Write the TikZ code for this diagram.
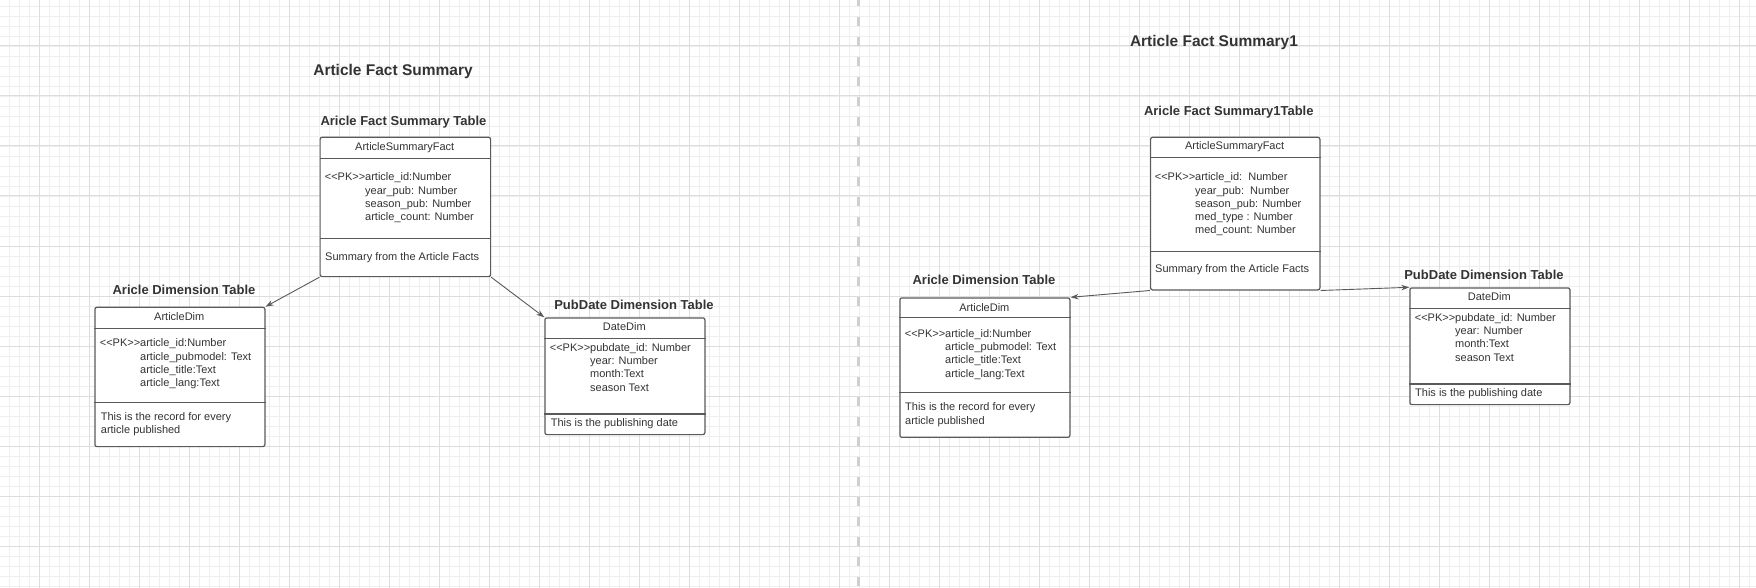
\documentclass[tikz,border=0pt]{standalone}
\usepackage{fontspec}
\setmainfont{Liberation Sans}
\usepackage{tikz}
\usetikzlibrary{positioning}
\usetikzlibrary{arrows.meta}
\usepackage{xcolor}
\definecolor{gridminor}{HTML}{EEEEEE}
\definecolor{gridmajor}{HTML}{DDDDDD}
\definecolor{splitgray}{HTML}{CFCFCF}
\definecolor{boxline}{HTML}{5A5A5A}
\definecolor{inktext}{HTML}{333333}
\newcommand{\pkmark}{<\kern0pt<PK>\kern0pt>}

\begin{document}
\begin{tikzpicture}[x=1pt, y=-1pt,
		minorline/.style={draw=gridminor, line width=0.8pt},
		majorline/.style={draw=gridmajor, line width=1pt},
		tablebox/.style={rectangle, draw=boxline, fill=white, line width=1.2pt, rounded corners=2pt, inner sep=0pt, anchor=north west},
		divline/.style={draw=boxline, line width=1.2pt},
		pagetitle/.style={text=inktext, font=\bfseries\fontsize{15.5}{18}\selectfont, anchor=mid},
		tabletitle/.style={text=inktext, font=\bfseries\fontsize{13}{15}\selectfont, anchor=mid},
		headtext/.style={text=inktext, font=\fontsize{11}{13.3}\selectfont, anchor=mid},
		attrtext/.style={text=inktext, font=\fontsize{11}{13.3}\selectfont, align=left, inner sep=0pt, anchor=north west},
		link/.style={draw=boxline, line width=0.9pt, -{Stealth[length=8pt, width=5.5pt]}},
		]
		%Background grid
		\fill[white] (0,0) rectangle (1756,588);
		\useasboundingbox (0,0) rectangle (1756,588);
		\foreach \gx in {9.5,19.5,...,1749.5} \draw[minorline] (\gx,0) -- (\gx,588);
		\foreach \gy in {6,16,...,586} \draw[minorline] (0,\gy) -- (1756,\gy);
		\foreach \gx in {39.5,89.5,...,1739.5} \draw[majorline] (\gx,0) -- (\gx,588);
		\foreach \gy in {46,96,...,546} \draw[majorline] (0,\gy) -- (1756,\gy);
		\draw[splitgray, line width=3pt, dash pattern=on 9pt off 11pt, dash phase=3pt] (858.5,0) -- (858.5,588);
		
		%Titles
		\node[pagetitle]  (page-1)  at (393,73)      {Article Fact Summary};
		\node[pagetitle]  (page-2)  at (1214,44)     {Article Fact Summary1};
		\node[tabletitle] (fact-1-title) at (403.5,122.7) {Aricle Fact Summary Table};
		\node[tabletitle] (adim-1-title) at (184,292.2)   {Aricle Dimension Table};
		\node[tabletitle] (date-1-title) at (634,306.5)   {PubDate Dimension Table};
		\node[tabletitle] (fact-2-title) at (1228.8,112.5) {Aricle Fact Summary1Table};
		\node[tabletitle] (adim-2-title) at (984,281.5)   {Aricle Dimension Table};
		\node[tabletitle] (date-2-title) at (1484,276.5)  {PubDate Dimension Table};
		
		%Tables
		\node[tablebox, minimum width=170.5pt, minimum height=139.3pt] (fact-1) at (319.5,136.7) {};
		\node[tablebox, minimum width=170pt, minimum height=139.3pt]   (adim-1) at (94.3,306.7)  {};
		\node[tablebox, minimum width=160pt, minimum height=116.7pt]   (date-1) at (544.3,317.3) {};
		\node[tablebox, minimum width=169.3pt, minimum height=152.6pt] (fact-2) at (1150,136.7)  {};
		\node[tablebox, minimum width=170pt, minimum height=139.4pt]   (adim-2) at (899.3,297.3) {};
		\node[tablebox, minimum width=160pt, minimum height=116.7pt]   (date-2) at (1409.3,287.3) {};
		
		%Dividers
		\draw[divline] ([yshift=-21.6pt]fact-1.north west) -- ([yshift=-21.6pt]fact-1.north east);
		\draw[divline] ([yshift=39pt]fact-1.south west) -- ([yshift=39pt]fact-1.south east);
		\draw[divline] ([yshift=-21.6pt]adim-1.north west) -- ([yshift=-21.6pt]adim-1.north east);
		\draw[divline] ([yshift=45pt]adim-1.south west) -- ([yshift=45pt]adim-1.south east);
		\draw[divline] ([yshift=-21pt]date-1.north west) -- ([yshift=-21pt]date-1.north east);
		\draw[divline] ([yshift=21.3pt]date-1.south west) -- ([yshift=21.3pt]date-1.south east);
		\draw[divline] ([yshift=-20.6pt]fact-2.north west) -- ([yshift=-20.6pt]fact-2.north east);
		\draw[divline] ([yshift=39.3pt]fact-2.south west) -- ([yshift=39.3pt]fact-2.south east);
		\draw[divline] ([yshift=-20.4pt]adim-2.north west) -- ([yshift=-20.4pt]adim-2.north east);
		\draw[divline] ([yshift=45.7pt]adim-2.south west) -- ([yshift=45.7pt]adim-2.south east);
		\draw[divline] ([yshift=-21pt]date-2.north west) -- ([yshift=-21pt]date-2.north east);
		\draw[divline] ([yshift=21.3pt]date-2.south west) -- ([yshift=21.3pt]date-2.south east);
		
		%Table texts
		\node[headtext] (fact-1-name) at (404.75,148) {ArticleSummaryFact};
		\node[attrtext] (fact-1-keys) at (365,172.6)  {\llap{\pkmark}article\_id:Number\\year\_pub: Number\\season\_pub: Number\\article\_count: Number};
		\node[attrtext] (fact-1-note) at (325,251.9)  {Summary from the Article Facts};
		
		\node[headtext] (adim-1-name) at (179.3,318)  {ArticleDim};
		\node[attrtext] (adim-1-keys) at (140,338.6)  {\llap{\pkmark}article\_id:Number\\article\_pubmodel: Text\\article\_title:Text\\article\_lang:Text};
		\node[attrtext] (adim-1-note) at (100.7,411.9) {This is the record for every\\article published};
		
		\node[headtext] (date-1-name) at (624.3,328)  {DateDim};
		\node[attrtext] (date-1-keys) at (590,343.2)  {\llap{\pkmark}pubdate\_id: Number\\year: Number\\month:Text\\season Text};
		\node[attrtext] (date-1-note) at (550.7,418.2) {This is the publishing date};
		
		\node[headtext] (fact-2-name) at (1234.65,147) {ArticleSummaryFact};
		\node[attrtext] (fact-2-keys) at (1195,172.6)  {\llap{\pkmark}article\_id:\ \ Number\\year\_pub:\ \ Number\\season\_pub: Number\\med\_type : Number\\med\_count: Number};
		\node[attrtext] (fact-2-note) at (1155,264.2)  {Summary from the Article Facts};
		
		\node[headtext] (adim-2-name) at (984.3,308.7) {ArticleDim};
		\node[attrtext] (adim-2-keys) at (945,329.2)   {\llap{\pkmark}article\_id:Number\\article\_pubmodel: Text\\article\_title:Text\\article\_lang:Text};
		\node[attrtext] (adim-2-note) at (905,402.6)   {This is the record for every\\article published};
		
		\node[headtext] (date-2-name) at (1489.3,298)  {DateDim};
		\node[attrtext] (date-2-keys) at (1455,313.2)  {\llap{\pkmark}pubdate\_id: Number\\year: Number\\month:Text\\season Text};
		\node[attrtext] (date-2-note) at (1415,388.2)  {This is the publishing date};
		
		%Lines
		\draw[link] (fact-1.south west) -- (adim-1.north east);
		\draw[link] (fact-1.south east) -- (date-1.north west);
		\draw[link] (fact-2.south west) -- (adim-2.north east);
		\draw[link] (fact-2.south east) -- (date-2.north west);
		
\end{tikzpicture}
\end{document}
